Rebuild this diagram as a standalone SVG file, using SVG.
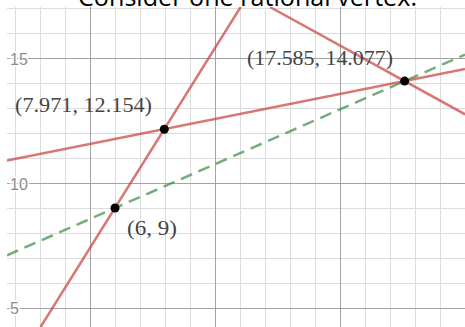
<svg xmlns="http://www.w3.org/2000/svg" width="465" height="327" viewBox="0 0 465 327">
  <defs>
    <clipPath id="plot"><rect x="7" y="7" width="458" height="320"/></clipPath>
    <style>
      .minor { stroke: #dcdcdc; stroke-width: 1; }
      .major { stroke: #a3a3a3; stroke-width: 1; }
      .red { stroke: #c74440; stroke-opacity: 0.72; stroke-width: 2.5; fill: none; }
      .green { stroke: #388c46; stroke-opacity: 0.7; stroke-width: 2.5; fill: none; stroke-dasharray: 12 7; }
      .pt { fill: #000; }
      .lbl { font-family: "Liberation Serif", "DejaVu Serif", serif; font-size: 20px; fill: #444; }
      .ax { font-family: "Liberation Sans", Arial, sans-serif; font-size: 16px; fill: #8c8c8c; stroke: #fff; stroke-width: 3; paint-order: stroke; }
      .title { font-family: "Open Sans", "Liberation Sans", sans-serif; font-size: 26px; fill: #000; }
    </style>
  </defs>
  <rect x="0" y="0" width="465" height="327" fill="#fff"/>
  <text class="title" x="78" y="6" textLength="339" lengthAdjust="spacingAndGlyphs">Consider one rational vertex.</text>
  <g id="grid" clip-path="url(#plot)">
    <rect x="7" y="7" width="458" height="320" fill="#fff"/>
    <g class="minor">
      <line x1="15.5" y1="7" x2="15.5" y2="327"/>
      <line x1="40.5" y1="7" x2="40.5" y2="327"/>
      <line x1="65.5" y1="7" x2="65.5" y2="327"/>
      <line x1="115.5" y1="7" x2="115.5" y2="327"/>
      <line x1="140.5" y1="7" x2="140.5" y2="327"/>
      <line x1="165.5" y1="7" x2="165.5" y2="327"/>
      <line x1="190.5" y1="7" x2="190.5" y2="327"/>
      <line x1="240.5" y1="7" x2="240.5" y2="327"/>
      <line x1="265.5" y1="7" x2="265.5" y2="327"/>
      <line x1="290.5" y1="7" x2="290.5" y2="327"/>
      <line x1="315.5" y1="7" x2="315.5" y2="327"/>
      <line x1="365.5" y1="7" x2="365.5" y2="327"/>
      <line x1="390.5" y1="7" x2="390.5" y2="327"/>
      <line x1="415.5" y1="7" x2="415.5" y2="327"/>
      <line x1="440.5" y1="7" x2="440.5" y2="327"/>
      <line x1="7" y1="8.5" x2="465" y2="8.5"/>
      <line x1="7" y1="33.5" x2="465" y2="33.5"/>
      <line x1="7" y1="83.5" x2="465" y2="83.5"/>
      <line x1="7" y1="108.5" x2="465" y2="108.5"/>
      <line x1="7" y1="133.5" x2="465" y2="133.5"/>
      <line x1="7" y1="158.5" x2="465" y2="158.5"/>
      <line x1="7" y1="208.5" x2="465" y2="208.5"/>
      <line x1="7" y1="233.5" x2="465" y2="233.5"/>
      <line x1="7" y1="258.5" x2="465" y2="258.5"/>
      <line x1="7" y1="283.5" x2="465" y2="283.5"/>
    </g>
    <g class="major">
      <line x1="90.5" y1="7" x2="90.5" y2="327"/>
      <line x1="215.5" y1="7" x2="215.5" y2="327"/>
      <line x1="340.5" y1="7" x2="340.5" y2="327"/>
      <line x1="7" y1="58.5" x2="465" y2="58.5"/>
      <line x1="7" y1="183.5" x2="465" y2="183.5"/>
      <line x1="7" y1="308.5" x2="465" y2="308.5"/>
    </g>
    <text class="ax" x="10" y="65">15</text>
    <text class="ax" x="10" y="190">10</text>
    <text class="ax" x="10" y="314">5</text>
  </g>
  <g id="connectors" clip-path="url(#plot)">
    <line class="green" x1="7" y1="255.33" x2="465" y2="54.6"/>
    <line class="red" x1="40.6" y1="327" x2="240.6" y2="7"/>
    <line class="red" x1="7" y1="160.6" x2="465" y2="69.0"/>
    <line class="red" x1="269.9" y1="7" x2="465" y2="114.3"/>
  </g>
  <g id="p1">
    <circle class="pt" cx="115" cy="208" r="4.5"/>
    <text class="lbl" x="127" y="235" textLength="50" lengthAdjust="spacingAndGlyphs">(6, 9)</text>
  </g>
  <g id="p2">
    <circle class="pt" cx="164.3" cy="129.2" r="4.5"/>
    <text class="lbl" x="15" y="112" textLength="137" lengthAdjust="spacingAndGlyphs">(7.971, 12.154)</text>
  </g>
  <g id="p3">
    <circle class="pt" cx="404.6" cy="81.1" r="4.5"/>
    <text class="lbl" x="247" y="65" textLength="146" lengthAdjust="spacingAndGlyphs">(17.585, 14.077)</text>
  </g>
</svg>
